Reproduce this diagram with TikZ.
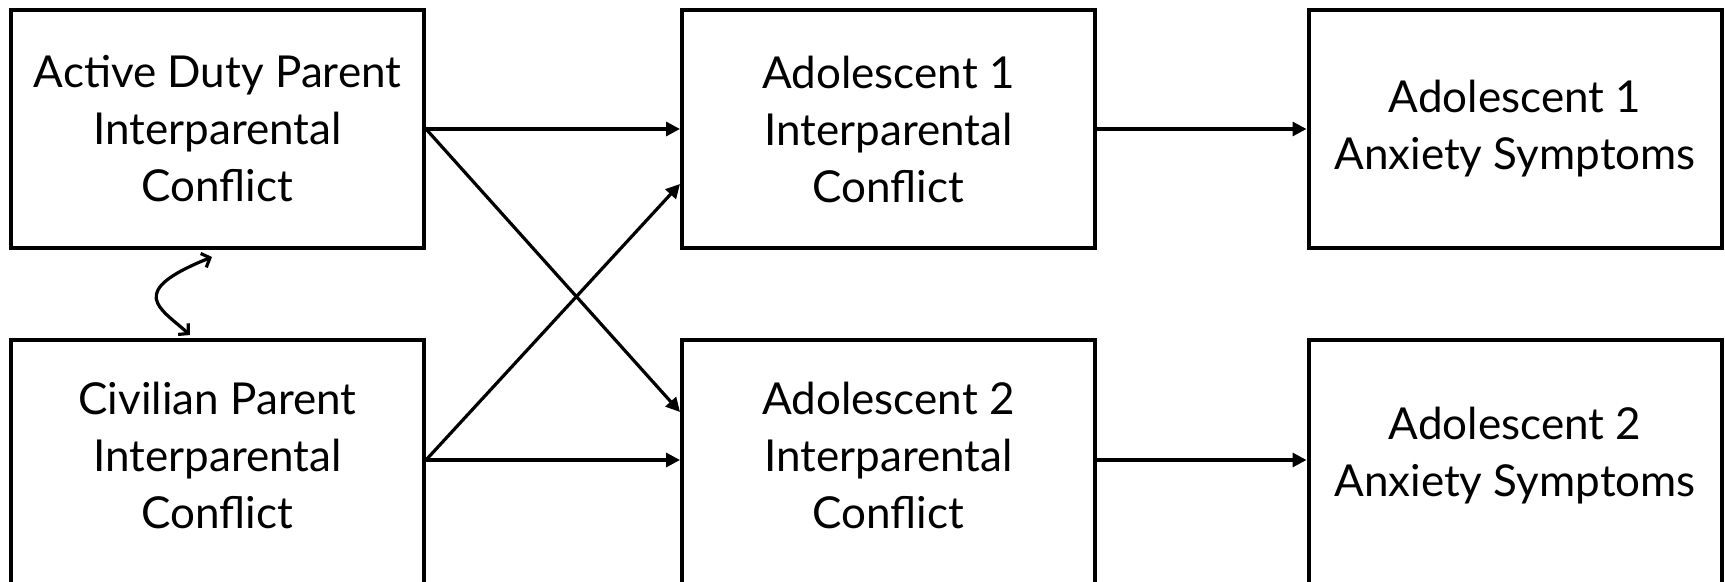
\documentclass[tikz,border=0pt]{standalone}
\usepackage{fontspec}
\setmainfont{Lato}
\usetikzlibrary{arrows.meta,calc}
\begin{document}
\begin{tikzpicture}[x=0.5pt,y=-0.5pt,
  txt/.style={align=center, inner sep=0pt, font=\fontsize{22}{28.5}\selectfont},
  box/.style={draw, line width=2pt, minimum width=206.5pt, minimum height=119pt, txt},
  lowbox/.style={draw, line width=2pt, minimum width=206.5pt, minimum height=131pt},
  link/.style={line width=1.6pt, -{Triangle[length=7pt,width=7pt]}},
  corr/.style={line width=1.6pt, {Straight Barb[length=3.5pt,width=7.5pt]}-{Straight Barb[length=3.5pt,width=7.5pt]}}]
\useasboundingbox (0,0) rectangle (1725,582);
\clip (0,0) rectangle (1725,582);
% top row
\node[box] (A)  at (217.5,129) {Active Duty Parent\\Interparental\\Conflict};
\node[box] (B1) at (888.5,129) {Adolescent 1\\Interparental\\Conflict};
\node[box] (D1) at (1515,129) {Adolescent 1\\Anxiety Symptoms};
% bottom row (cut by the lower edge)
\node[lowbox, label={[txt, yshift=7.75pt]center:Civilian Parent\\Interparental\\Conflict}] (C) at (217.5,471) {};
\node[lowbox, label={[txt, yshift=7.75pt]center:Adolescent 2\\Interparental\\Conflict}] (B2) at (888.5,471) {};
\node[lowbox, label={[txt, yshift=7.75pt]center:Adolescent 2\\Anxiety Symptoms}] (D2) at (1515,471) {};
% paths
\draw[link] (A.east) -- (B1.west);
\draw[link] (A.east) -- ($(B2.north west)+(0,74)$);
\draw[link] ($(C.north east)+(0,122)$) -- ($(B1.north west)+(0,176)$);
\draw[link] ($(C.north east)+(0,122)$) -- ($(B2.north west)+(0,122)$);
\draw[link] (B1.east) -- (D1.west);
\draw[link] ($(B2.north east)+(0,122)$) -- ($(D2.north west)+(0,122)$);
% correlation
\draw[corr] ($(C.north)+(-27.5,-3)$) .. controls (160,308) and (125,292) .. ($(A.south)+(-5.5,7)$);
\end{tikzpicture}
\end{document}
